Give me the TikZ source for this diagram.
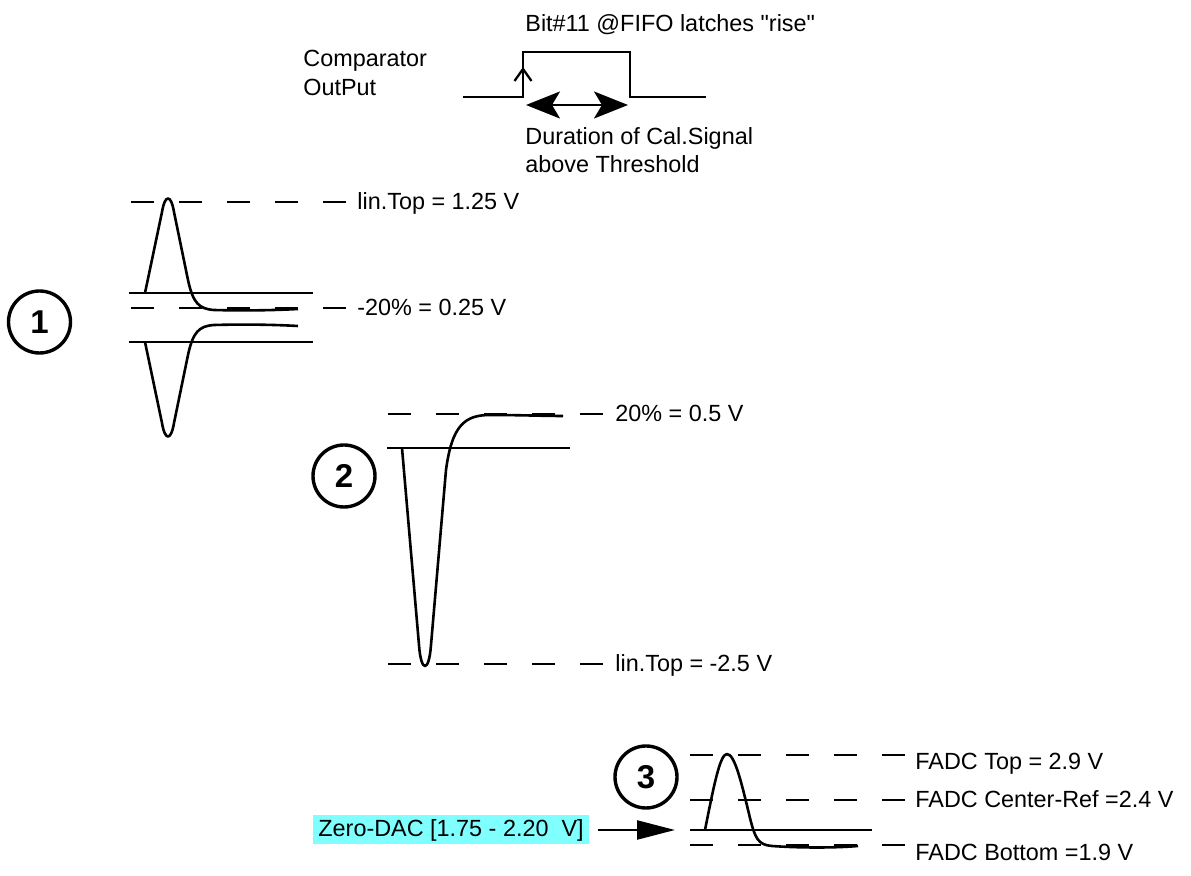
\documentclass[tikz,border=0pt]{standalone}
\usepackage{fontspec}
\setmainfont{Liberation Sans}
\usetikzlibrary{arrows.meta}
\definecolor{dacblue}{RGB}{128,255,255}

\begin{document}
\begin{tikzpicture}[x=.5pt, y=-.5pt,
		lbl/.style={anchor=base west, inner sep=0pt, font=\fontsize{11.7}{14}\selectfont},
		thr/.style={line width=1.4pt, dash pattern=on 11.5pt off 12.5pt},
		lvl/.style={line width=1.15pt},
		sig/.style={line width=1.3pt, line join=round},
		num/.style={circle, draw, line width=1.7pt, minimum size=31pt, inner sep=0pt, font=\fontsize{16.5}{16.5}\selectfont\bfseries},
		dac/.style={anchor=west, fill=dacblue, inner xsep=2.5pt, inner ysep=0pt, minimum height=14.5pt, font=\fontsize{11.7}{14}\selectfont}]
	\useasboundingbox (0,0) rectangle (1191,876);
	\node[lbl] (bit) at (525,32) {Bit\#11 @FIFO latches \textquotedbl rise\textquotedbl};
	\node[lbl] (cmp) at (303,67) {Comparator};
	\node[lbl] (out) at (303,96) {OutPut};
	\node[lbl] (dur) at (525,145) {Duration of Cal.Signal};
	\node[lbl] (abv) at (525,173) {above Threshold};
	\coordinate (rise) at (523,97);
	\coordinate (dl) at (526,105);
	\coordinate (dr) at (628,105);
	\draw[lvl] (463,97) -- (rise) -- (523,52) -- (630,52) -- (630,97) -- (706,97);
	\draw[lvl, -{Straight Barb[length=6pt,width=8.5pt]}] (rise) -- ++(0,-30);
	\draw[lvl, {Stealth[length=17pt,width=13.5pt,inset=4pt]}-{Stealth[length=17pt,width=13.5pt,inset=4pt]}] (dl) -- (dr);
	\foreach \y/\xa in {202/131, 308/131, 414/388, 664/388, 755/690, 800/690, 845/690}{
		\draw[thr] (\xa,\y) -- ++(215,0);
	}
	\foreach \x/\y/\t [count=\i] in {357/210/{lin.Top = 1.25 V}, 357/316/{-20\% = 0.25 V},
			615/422/{20\% = 0.5 V}, 615/672/{lin.Top = -2.5 V},
			915/770/{FADC Top = 2.9 V}, 915/808/{FADC Center-Ref =2.4 V}, 915/861/{FADC Bottom =1.9 V}}{
		\node[lbl] (L\i) at (\x,\y) {\t};
	}
	\draw[lvl] (129,293) -- (313,293);
	\draw[lvl] (129,342) -- (313,342);
	\draw[lvl] (387,448) -- (570,448);
	\draw[lvl] (690,830) -- (872,830);
	\draw[sig] (145,293) -- (162,212) .. controls (165,194) and (171,194) .. (174,212) -- (188,280)
		.. controls (193,303) and (199,309) .. (214,310) .. controls (250,311) and (280,310) .. (298,309);
	\draw[sig] (145,342) -- (162,423) .. controls (165,441) and (171,441) .. (174,423) -- (188,355)
		.. controls (193,332) and (199,326) .. (214,325) .. controls (250,324) and (280,325) .. (298,326);
	\draw[sig] (402,448) -- (419,645) .. controls (421,673) and (429,673) .. (431,645) -- (446,470)
		.. controls (452,425) and (465,415) .. (490,415) .. controls (520,415) and (545,416) .. (563,416);
	\draw[sig] (705,830) .. controls (714,785) and (720,754) .. (727,754) .. controls (735,754) and (742,785) .. (750,818)
		.. controls (755,838) and (758,845) .. (772,846) .. controls (800,848) and (835,848) .. (858,846);
	\node[num] (n1) at (39.5,322) {1};
	\node[num] (n2) at (344,476) {2};
	\node[num] (n3) at (646,777) {3};
	\node[dac] (zdac) at (313,830) {Zero-DAC [1.75 - 2.20\ \ V]};
	\coordinate (zin) at (675,830);
	\draw[lvl, -{Triangle[length=19pt,width=9.5pt]}, shorten <=4.5pt] (zdac.east) -- (zin);
\end{tikzpicture}
\end{document}
